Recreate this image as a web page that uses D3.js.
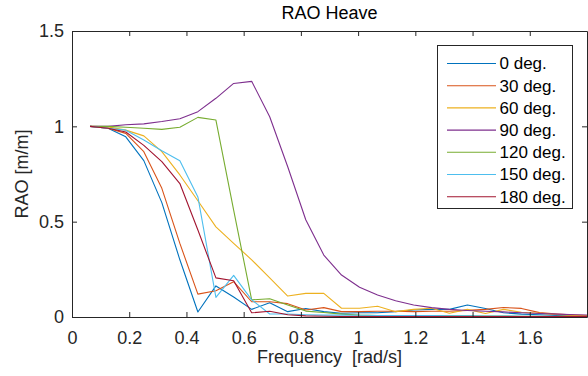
<!DOCTYPE html>
<html>
<head>
<meta charset="utf-8">
<script src="https://cdn.jsdelivr.net/npm/d3@7"></script>
<style>
  html, body { margin: 0; padding: 0; background: #fff; }
  svg { display: block; font-family: "Liberation Sans", Arial, Helvetica, sans-serif; }
</style>
</head>
<body>
<svg id="chart" width="588" height="376"></svg>
<script>
// Wave frequencies [rad/s]
const freq = [0.063, 0.126, 0.188, 0.251, 0.314, 0.377, 0.440, 0.503, 0.565, 0.628,
              0.691, 0.754, 0.817, 0.880, 0.942, 1.005, 1.068, 1.131, 1.194, 1.257,
              1.319, 1.382, 1.445, 1.508, 1.571, 1.634, 1.696, 1.759, 1.822];

// Heave RAO [m/m] per wave heading
const rao0   = [1.000, 0.990, 0.945, 0.820, 0.600, 0.300, 0.026, 0.163, 0.105, 0.040,
                0.075, 0.028, 0.045, 0.028, 0.020, 0.022, 0.022, 0.028, 0.037, 0.040,
                0.040, 0.063, 0.045, 0.022, 0.015, 0.012, 0.008, 0.006, 0.004];
const rao30  = [1.000, 0.990, 0.963, 0.867, 0.675, 0.386, 0.120, 0.138, 0.185, 0.080,
                0.080, 0.070, 0.037, 0.049, 0.028, 0.028, 0.030, 0.030, 0.028, 0.030,
                0.030, 0.035, 0.040, 0.050, 0.045, 0.023, 0.016, 0.010, 0.006];
const rao60  = [1.000, 0.997, 0.980, 0.950, 0.867, 0.745, 0.610, 0.473, 0.386, 0.300,
                0.205, 0.110, 0.124, 0.124, 0.046, 0.046, 0.056, 0.028, 0.040, 0.046,
                0.020, 0.040, 0.018, 0.040, 0.025, 0.020, 0.012, 0.008, 0.005];
const rao90  = [1.000, 1.000, 1.008, 1.013, 1.025, 1.040, 1.077, 1.147, 1.225, 1.236,
                1.050, 0.788, 0.510, 0.325, 0.220, 0.156, 0.115, 0.085, 0.063, 0.049,
                0.040, 0.034, 0.030, 0.027, 0.022, 0.018, 0.015, 0.012, 0.010];
const rao120 = [1.000, 1.000, 0.995, 0.990, 0.984, 0.995, 1.047, 1.033, 0.560, 0.090,
                0.096, 0.063, 0.031, 0.024, 0.015, 0.010, 0.008, 0.008, 0.007, 0.007,
                0.006, 0.006, 0.005, 0.005, 0.004, 0.004, 0.003, 0.003, 0.003];
const rao150 = [1.000, 0.990, 0.980, 0.928, 0.872, 0.820, 0.630, 0.103, 0.218, 0.090,
                0.016, 0.016, 0.012, 0.010, 0.010, 0.009, 0.008, 0.008, 0.007, 0.007,
                0.006, 0.006, 0.005, 0.005, 0.004, 0.004, 0.003, 0.003, 0.003];
const rao180 = [1.000, 0.990, 0.970, 0.900, 0.815, 0.700, 0.456, 0.205, 0.190, 0.022,
                0.030, 0.012, 0.006, 0.004, 0.003, 0.003, 0.003, 0.002, 0.002, 0.002,
                0.002, 0.002, 0.002, 0.002, 0.002, 0.002, 0.002, 0.002, 0.002];

const headings = ["0 deg.", "30 deg.", "60 deg.", "90 deg.", "120 deg.", "150 deg.", "180 deg."];
const colors = ["#0072BD", "#D95319", "#EDB120", "#7E2F8E", "#77AC30", "#4DBEEE", "#A2142F"];
const seriesValues = [rao0, rao30, rao60, rao90, rao120, rao150, rao180];

const xTicks = [0, 0.2, 0.4, 0.6, 0.8, 1.0, 1.2, 1.4, 1.6];
const yTicks = [0, 0.5, 1, 1.5];

const svg = d3.select("#chart");
const W = 588, H = 376;
const m = { left: 72, right: 1, top: 31, bottom: 59 };
const axisColor = "#262626";
const fontSize = 18;

const x = d3.scaleLinear().domain([0, 1.8]).range([m.left, W - m.right]);
const y = d3.scaleLinear().domain([0, 1.5]).range([H - m.bottom, m.top]);

svg.append("defs").append("clipPath").attr("id", "plotClip")
  .append("rect")
  .attr("x", x(0)).attr("y", y(1.5))
  .attr("width", x(1.8) - x(0)).attr("height", y(0) - y(1.5));

// Series lines
const line = d3.line().x((d, i) => x(freq[i])).y(d => y(d));
const lines = svg.append("g").attr("clip-path", "url(#plotClip)");
seriesValues.forEach((vals, s) => {
  lines.append("path")
    .datum(vals)
    .attr("d", line)
    .attr("fill", "none")
    .attr("stroke", colors[s])
    .attr("stroke-width", 1.1)
    .attr("stroke-linejoin", "round");
});

// Axes with inward ticks, box style
const tickLen = 5;
const fmt = d => (d === 0 ? "0" : d3.format("~g")(d));
const xAxis = svg.append("g").attr("transform", `translate(0,${y(0)})`)
  .call(d3.axisBottom(x).tickValues(xTicks).tickSizeInner(-tickLen).tickSizeOuter(0).tickPadding(14).tickFormat(fmt));
const xAxisTop = svg.append("g").attr("transform", `translate(0,${y(1.5)})`)
  .call(d3.axisTop(x).tickValues(xTicks).tickSizeInner(-tickLen).tickSizeOuter(0).tickFormat(""));
const yAxis = svg.append("g").attr("transform", `translate(${x(0)},0)`)
  .call(d3.axisLeft(y).tickValues(yTicks).tickSizeInner(-tickLen).tickSizeOuter(0).tickPadding(8).tickFormat(fmt));
const yAxisRight = svg.append("g").attr("transform", `translate(${x(1.8)},0)`)
  .call(d3.axisRight(y).tickValues(yTicks).tickSizeInner(-tickLen).tickSizeOuter(0).tickFormat(""));

[xAxis, xAxisTop, yAxis, yAxisRight].forEach(g => {
  g.select(".domain").attr("stroke", axisColor).attr("stroke-width", 1);
  g.selectAll(".tick line").attr("stroke", axisColor).attr("stroke-width", 1);
  g.selectAll(".tick text").attr("fill", axisColor).attr("font-size", fontSize)
    .attr("font-family", "'Liberation Sans', Arial, sans-serif");
});

// Title and axis labels
svg.append("text")
  .attr("x", (x(0) + x(1.8)) / 2).attr("y", 19)
  .attr("text-anchor", "middle").attr("font-size", fontSize).attr("fill", "#000")
  .text("RAO Heave");
svg.append("text")
  .attr("x", (x(0) + x(1.8)) / 2).attr("y", 363)
  .attr("text-anchor", "middle").attr("font-size", fontSize).attr("fill", axisColor)
  .attr("xml:space", "preserve")
  .text("Frequency  [rad/s]");
svg.append("text")
  .attr("transform", `translate(28,${(y(0) + y(1.5)) / 2}) rotate(-90)`)
  .attr("text-anchor", "middle").attr("font-size", fontSize).attr("fill", axisColor)
  .text("RAO [m/m]");

// Legend
const lg = svg.append("g").attr("transform", "translate(437.5,45.5)");
lg.append("rect").attr("width", 135).attr("height", 163)
  .attr("fill", "#fff").attr("stroke", axisColor).attr("stroke-width", 1);
headings.forEach((h, i) => {
  const cy = 18 + i * 22.2;
  lg.append("line").attr("x1", 9.5).attr("x2", 58.5).attr("y1", cy).attr("y2", cy)
    .attr("stroke", colors[i]).attr("stroke-width", 1.1);
  lg.append("text").attr("x", 62).attr("y", cy).attr("dy", "0.35em")
    .attr("font-size", 17).attr("fill", "#000").text(h);
});
</script>
</body>
</html>
